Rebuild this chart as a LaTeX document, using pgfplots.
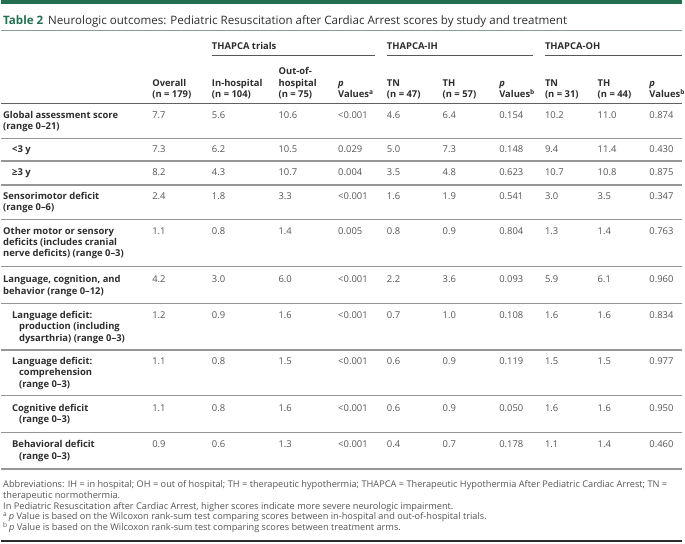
\documentclass[border=0pt]{standalone}
\usepackage{fontspec}
\setmainfont{Open Sans}
\usepackage{pgfplots}
\usepackage{pgfplotstable}
\pgfplotsset{compat=1.18}

\definecolor{tgreen}{RGB}{34,112,80}
\definecolor{tline}{RGB}{130,160,148}
\definecolor{labc}{RGB}{45,45,45}
\definecolor{valc}{RGB}{85,85,85}
\definecolor{rulec}{RGB}{150,150,150}

% one row per table row: y = centre of the first text line (pixels from top)
\pgfplotstableread{
y   ov  inh outh pa     tna tha pb    tnb  thb  pc
116 7.7 5.6 10.6 <0.001 4.6 6.4 0.154 10.2 11.0 0.874
150 7.3 6.2 10.5 0.029  5.0 7.3 0.148 9.4  11.4 0.430
173 8.2 4.3 10.7 0.004  3.5 4.8 0.623 10.7 10.8 0.875
197 2.4 1.8 3.3  <0.001 1.6 1.9 0.541 3.0  3.5  0.347
232 1.1 0.8 1.4  0.005  0.8 0.9 0.804 1.3  1.4  0.763
281 4.2 3.0 6.0  <0.001 2.2 3.6 0.093 5.9  6.1  0.960
317 1.2 0.9 1.6  <0.001 0.7 1.0 0.108 1.6  1.6  0.834
363 1.1 0.8 1.5  <0.001 0.6 0.9 0.119 1.5  1.5  0.977
410 1.1 0.8 1.6  <0.001 0.6 0.9 0.050 1.6  1.6  0.950
447 0.9 0.6 1.3  <0.001 0.4 0.7 0.178 1.1  1.4  0.460
}\scores

\newcommand{\fs}{\fontsize{9.5}{11.5}\selectfont}
\newcommand{\col}[2]{\addplot[draw=none, mark=none, nodes near coords, point meta=explicit symbolic,
  nodes near coords style={anchor=base west, yshift=-3.4bp, inner sep=0pt, text=valc, font=\fs}]
  table[x expr=#1, y=y, meta=#2] {\scores};}
% label with its centre line at y
\newcommand{\hd}[3]{\node[lab] at (axis cs:#1,#2+3.4) {#3};}
\newcommand{\rl}[1]{\draw[rulec, line width=1.2bp] (axis cs:0,#1) -- (axis cs:685,#1);}

\tikzset{
  lab/.style={anchor=base west, inner sep=0pt, text=labc, font=\fs\bfseries},
  foot/.style={anchor=base west, inner sep=0pt, text=valc, font=\fontsize{9.3}{11}\selectfont}
}

\begin{document}
\begin{tikzpicture}
\begin{axis}[
  width=685bp, height=547bp, scale only axis,
  xmin=0, xmax=685, ymin=0, ymax=547, y dir=reverse,
  hide axis, clip=false
  ]
  \path (axis cs:0,0) rectangle (axis cs:685,547);
  % top bar and title
  \fill[tgreen] (axis cs:0,0) rectangle (axis cs:685,4);
  \node[anchor=base west, inner sep=0pt, font=\fontsize{11.7}{13}\selectfont, text=labc] at (axis cs:2,25)
    {\textcolor{tgreen}{\bfseries Table 2}\, Neurologic outcomes: Pediatric Resuscitation after Cardiac Arrest scores by study and treatment};
  \draw[tline, line width=1.3bp] (axis cs:0,30.5) -- (axis cs:685,30.5);

  % group headers
  \hd{212}{46}{THAPCA trials}
  \hd{388}{46}{THAPCA-IH}
  \hd{547}{46}{THAPCA-OH}
  \draw[labc!80, line width=1bp] (axis cs:212,56) -- (axis cs:376,56);
  \draw[labc!80, line width=1bp] (axis cs:388,56) -- (axis cs:535,56);
  \draw[labc!80, line width=1bp] (axis cs:547,56) -- (axis cs:685,56);

  % column headers
  \hd{279}{72}{Out-of-}
  \hd{152}{83.5}{Overall}
  \hd{212}{83.5}{In-hospital}
  \hd{279}{83.5}{hospital}
  \hd{339}{83.5}{\textit{p}}
  \hd{388}{83.5}{TN}
  \hd{444}{83.5}{TH}
  \hd{501}{83.5}{\textit{p}}
  \hd{547}{83.5}{TN}
  \hd{600}{83.5}{TH}
  \hd{652}{83.5}{\textit{p}}
  \hd{152}{95}{(n = 179)}
  \hd{212}{95}{(n = 104)}
  \hd{279}{95}{(n = 75)}
  \hd{339}{95}{Values\textsuperscript{a}}
  \hd{388}{95}{(n = 47)}
  \hd{444}{95}{(n = 57)}
  \hd{501}{95}{Values\textsuperscript{b}}
  \hd{547}{95}{(n = 31)}
  \hd{600}{95}{(n = 44)}
  \hd{652}{95}{Values\textsuperscript{b}}
  \draw[labc!75, line width=1.3bp] (axis cs:0,104) -- (axis cs:685,104);

  % row labels
  \hd{2}{116}{Global assessment score}
  \hd{2}{127}{(range 0–21)}
  \hd{11}{150}{<3 y}
  \hd{11}{173}{≥3 y}
  \hd{2}{197}{Sensorimotor deficit}
  \hd{2}{208.5}{(range 0–6)}
  \hd{2}{232}{Other motor or sensory}
  \hd{2}{243.5}{deficits (includes cranial}
  \hd{2}{255}{nerve deficits) (range 0–3)}
  \hd{2}{281}{Language, cognition, and}
  \hd{2}{292.5}{behavior (range 0–12)}
  \hd{11}{317}{Language deficit:}
  \hd{18}{328.5}{production (including}
  \hd{18}{340}{dysarthria) (range 0–3)}
  \hd{11}{363}{Language deficit:}
  \hd{18}{374.5}{comprehension}
  \hd{18}{386}{(range 0–3)}
  \hd{11}{410}{Cognitive deficit}
  \hd{18}{421.5}{(range 0–3)}
  \hd{11}{447}{Behavioral deficit}
  \hd{18}{458.5}{(range 0–3)}

  % row rules
  \rl{139} \rl{162} \rl{186} \rl{221} \rl{268} \rl{305} \rl{352} \rl{398} \rl{435}
  \draw[rulec, line width=2bp] (axis cs:0,472) -- (axis cs:685,472);

  % values
  \col{152}{ov} \col{212}{inh} \col{279}{outh} \col{339}{pa}
  \col{388}{tna} \col{444}{tha} \col{501}{pb}
  \col{547}{tnb} \col{600}{thb} \col{652}{pc}

  % footnotes
  \node[foot] at (axis cs:2,490) {Abbreviations: IH = in hospital; OH = out of hospital; TH = therapeutic hypothermia; THAPCA = Therapeutic Hypothermia After Pediatric Cardiac Arrest; TN =};
  \node[foot] at (axis cs:2,501) {therapeutic normothermia.};
  \node[foot] at (axis cs:2,512) {In Pediatric Resuscitation after Cardiac Arrest, higher scores indicate more severe neurologic impairment.};
  \node[foot] at (axis cs:2,523) {\textsuperscript{a}\,\textit{p} Value is based on the Wilcoxon rank-sum test comparing scores between in-hospital and out-of-hospital trials.};
  \node[foot] at (axis cs:2,534) {\textsuperscript{b}\,\textit{p} Value is based on the Wilcoxon rank-sum test comparing scores between treatment arms.};
  \draw[labc, line width=2bp] (axis cs:0,544) -- (axis cs:685,544);
\end{axis}
\end{tikzpicture}
\end{document}
